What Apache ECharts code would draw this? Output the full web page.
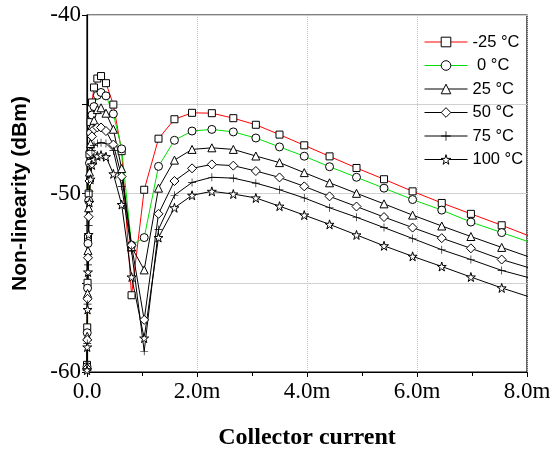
<!DOCTYPE html>
<html>
<head>
<meta charset="utf-8">
<script src="https://cdn.jsdelivr.net/npm/echarts@6/dist/echarts.min.js"></script>
<style>
  html, body { margin: 0; padding: 0; background: #fff; }
  #chart { width: 555px; height: 455px; }
</style>
</head>
<body>
<div id="chart"></div>
<script>
// collector current sweep (mA)
const currents = [0, 0.004, 0.01, 0.018, 0.03, 0.045, 0.065, 0.09, 0.127, 0.188, 0.255, 0.345, 0.479, 0.63, 0.81, 1.04,
  1.30, 1.59, 1.91, 2.27, 2.66, 3.07, 3.50, 3.95, 4.41, 4.90, 5.40, 5.92, 6.45, 6.98, 7.54, 8.1];

// non-linearity (dBm) per temperature
const tM25 = [-59.6, -57.5, -55.0, -52.5, -50.0, -47.8, -46.0, -44.9, -44.06, -43.56, -43.42, -43.82, -45.02, -47.63, -55.70, -49.79,
  -46.93, -45.84, -45.48, -45.50, -45.78, -46.15, -46.70, -47.30, -47.92, -48.57, -49.20, -49.88, -50.53, -51.14, -51.78, -52.45];
const t0 = [-59.7, -57.8, -55.3, -52.8, -50.4, -48.3, -46.6, -45.6, -45.13, -44.5, -44.34, -44.53, -45.54, -47.5, -52.89, -52.47,
  -48.48, -47.02, -46.50, -46.41, -46.55, -46.89, -47.39, -47.91, -48.50, -49.09, -49.70, -50.34, -50.93, -51.60, -52.19, -52.78];
const t25 = [-59.7, -58.0, -55.6, -53.2, -50.8, -48.8, -47.2, -46.2, -45.9, -45.3, -45.2, -45.5, -46.4, -48.6, -53.0, -54.28,
  -49.70, -48.13, -47.53, -47.44, -47.53, -47.90, -48.27, -48.83, -49.40, -49.99, -50.58, -51.21, -51.82, -52.41, -53.02, -53.62];
const t50 = [-59.8, -58.2, -55.9, -53.6, -51.3, -49.3, -47.7, -46.8, -46.4, -46.3, -46.3, -46.5, -47.26, -49.05, -52.9, -57.08,
  -51.14, -49.30, -48.59, -48.37, -48.44, -48.74, -49.10, -49.60, -50.16, -50.73, -51.32, -51.91, -52.50, -53.07, -53.70, -54.22];
const t75 = [-59.8, -58.4, -56.2, -54.0, -51.8, -49.9, -48.4, -47.6, -47.3, -47.2, -47.15, -47.2, -47.6, -49.6, -53.2, -58.84,
  -52.01, -50.10, -49.38, -49.09, -49.14, -49.42, -49.79, -50.25, -50.80, -51.33, -51.91, -52.52, -53.15, -53.70, -54.31, -54.77];
const t100 = [-59.9, -58.6, -56.5, -54.4, -52.3, -50.5, -49.2, -48.4, -48.1, -47.9, -47.85, -47.94, -48.9, -50.62, -54.68, -58.10,
  -52.47, -50.80, -50.10, -49.88, -50.03, -50.25, -50.71, -51.21, -51.73, -52.32, -52.93, -53.52, -54.09, -54.68, -55.29, -55.85];

const seriesNames = ['-25 °C', ' 0 °C', '25 °C', '50 °C', '75 °C', '100 °C'];
const xTicks = ['0.0', '2.0m', '4.0m', '6.0m', '8.0m'];

const STAR = 'path://M50,0 L61,35 L98,35 L68,57 L79,91 L50,70 L21,91 L32,57 L2,35 L39,35 Z';
const PLUS = 'path://M46,0 L54,0 L54,46 L100,46 L100,54 L54,54 L54,100 L46,100 L46,54 L0,54 L0,46 L46,46 Z';

const styles = [
  { data: tM25, line: '#ff0000', symbol: 'rect', size: 7 },
  { data: t0, line: '#00e000', symbol: 'circle', size: 8 },
  { data: t25, line: '#000', symbol: 'triangle', size: 8 },
  { data: t50, line: '#000', symbol: 'diamond', size: 9 },
  { data: t75, line: '#000', symbol: PLUS, size: 8, fill: '#000' },
  { data: t100, line: '#000', symbol: STAR, size: 9 },
];

const markerStyle = s => ({
  color: s.fill || '#fff',
  borderColor: '#000',
  borderWidth: s.fill ? 0 : 1,
});

const chart = echarts.init(document.getElementById('chart'));

chart.setOption({
  animation: false,
  grid: {
    left: 87, right: 28, top: 15, bottom: 79,
    show: true, borderColor: '#000', borderWidth: 1.2,
  },
  legend: {
    orient: 'vertical',
    left: 419, top: 28,
    itemWidth: 43, itemHeight: 12, itemGap: 5.5,
    textStyle: { fontFamily: 'Liberation Sans, Arial', fontSize: 16.5, color: '#000', lineHeight: 18 },
    data: styles.map((s, i) => ({
      name: seriesNames[i],
      itemStyle: markerStyle(s),
      lineStyle: { color: s.line, width: 1 },
    })),
  },
  xAxis: {
    type: 'value',
    min: 0, max: 8, interval: 2,
    name: 'Collector current',
    nameLocation: 'middle',
    nameGap: 54,
    nameTextStyle: { fontFamily: 'Liberation Serif, Times New Roman', fontWeight: 'bold', fontSize: 24, color: '#000' },
    axisLine: { lineStyle: { color: '#000', width: 1.2 } },
    axisTick: { show: true, length: 5, lineStyle: { color: '#000' } },
    minorTick: { show: true, splitNumber: 2, length: 4, lineStyle: { color: '#000' } },
    axisLabel: {
      fontFamily: 'Liberation Serif, Times New Roman', fontSize: 23, color: '#000', margin: 8,
      formatter: v => xTicks[Math.round(v / 2)],
    },
    splitLine: { show: true, lineStyle: { color: '#c4c4c4', width: 1, type: 'dotted' } },
  },
  yAxis: {
    type: 'value',
    min: -60, max: -40, interval: 5,
    name: 'Non-linearity (dBm)',
    nameLocation: 'middle',
    nameGap: 56,
    nameTextStyle: { fontFamily: 'Liberation Sans, Arial', fontWeight: 'bold', fontSize: 21, color: '#000' },
    axisLine: { lineStyle: { color: '#000', width: 1.2 } },
    axisTick: { show: true, length: 5, lineStyle: { color: '#000' } },
    axisLabel: {
      fontFamily: 'Liberation Serif, Times New Roman', fontSize: 23, color: '#000', margin: 6,
      formatter: v => (v % 10 === 0 ? String(v) : ''),
    },
    splitLine: { show: true, lineStyle: { color: '#d0d0d0', width: 1 } },
  },
  series: styles.map((s, i) => ({
    name: seriesNames[i],
    type: 'line',
    data: currents.map((c, k) => [c, s.data[k]]),
    symbol: s.symbol,
    symbolSize: s.size,
    showAllSymbol: true,
    clip: true,
    lineStyle: { color: s.line, width: 1 },
    itemStyle: markerStyle(s),
    emphasis: { disabled: true },
  })),
});
</script>
</body>
</html>
